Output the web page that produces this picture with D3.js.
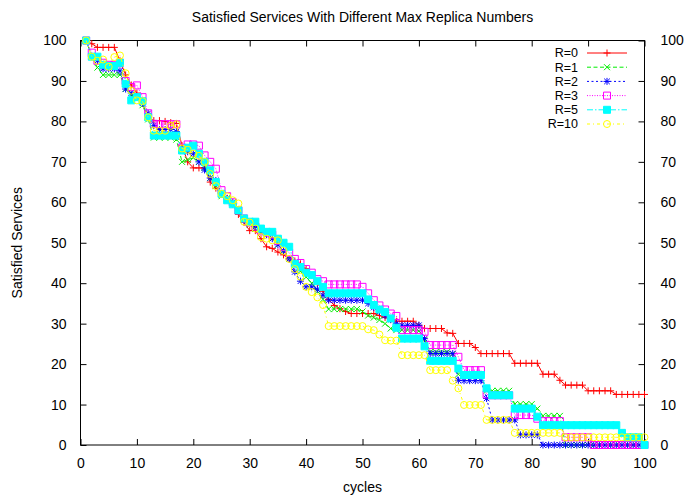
<!DOCTYPE html>
<html>
<head>
<meta charset="utf-8">
<script src="https://cdn.jsdelivr.net/npm/d3@7"></script>
<style>
  html, body { margin: 0; padding: 0; background: #fff; }
  svg { display: block; font-family: "Liberation Sans", Arial, Helvetica, sans-serif; }
</style>
</head>
<body>
<svg id="chart" width="685" height="498"></svg>
<script>
// cycles 1..100
const cycles = d3.range(1, 101);

const xTicks = [0, 10, 20, 30, 40, 50, 60, 70, 80, 90, 100];
const yTicks = [0, 10, 20, 30, 40, 50, 60, 70, 80, 90, 100];

const seriesNames = ["R=0", "R=1", "R=2", "R=3", "R=5", "R=10"];

const r0 = [100, 99.2, 98.3, 98.3, 98.3, 98.3, 95, 91.5, 89, 87,
  84.5, 81, 80.2, 80.2, 80, 79.7, 79.5, 74, 70, 68.5,
  68.5, 68.5, 65, 63.5, 62, 61, 59.5, 57, 55, 53,
  53, 51, 49, 48.6, 47.7, 47, 46, 45.5, 44.8, 43.6,
  42, 40, 38, 36, 34.5, 33.7, 33, 32.5, 32.5, 32.5,
  32.5, 32.5, 32, 31.5, 31, 30.6, 30.6, 30.6, 30.6, 29.6,
  28.8, 28.8, 28.8, 28.8, 27.7, 27.6, 25.1, 25.1, 25.1, 24.1,
  22.6, 22.6, 22.6, 22.6, 22.6, 22.6, 20.2, 20.2, 20.2, 20.2,
  20.2, 17.5, 17.5, 17.5, 16, 14.8, 14.8, 14.8, 14.8, 13.4,
  13.4, 13.4, 13.4, 13.4, 12.5, 12.5, 12.5, 12.5, 12.5, 12.5];

const r1 = [100, 96, 93.3, 91.5, 91.5, 91.5, 91.5, 88, 86.5, 86,
  84, 80.5, 76, 76, 76, 76, 75.5, 70, 70.5, 71,
  70, 68.5, 66, 64, 61.5, 61, 60, 58, 56, 54.5,
  53.5, 52.5, 52, 51, 49.5, 48, 46, 44.5, 43, 41.5,
  40, 38, 36, 33.6, 33.6, 33.6, 33.6, 33.6, 33.6, 33,
  32, 31.5, 30.9, 30, 28.8, 28.4, 28.4, 28.4, 28.4, 28.2,
  26, 23, 23, 23, 23, 22.5, 17.5, 17.5, 17.5, 17.5,
  17.3, 13.4, 13.4, 13.4, 13.4, 13.4, 10.1, 10.1, 10.1, 10.1,
  9, 7.2, 7.2, 7.2, 7.2, 0, 0, 0, 0, 0,
  0, 0, 0, 0, 0, 0, 0, 0, 0, 0];

const r2 = [100, 96, 95, 93, 93, 93, 92.5, 88, 87, 86,
  84.5, 82, 79, 78, 78, 78, 77.5, 73, 72.5, 72,
  70, 68, 66, 65.4, 62, 60.9, 60, 58, 55.6, 55,
  54, 53, 52, 51, 49.5, 48, 46, 42.8, 40.5, 39.1,
  39.1, 38.5, 37, 35.8, 35.8, 35.8, 35.8, 35.8, 35.8, 35.8,
  35, 34, 33, 32, 31, 30, 29.6, 29.6, 29.6, 29.6,
  26.3, 22.6, 22.6, 22.6, 22.6, 22.6, 16, 15.9, 15.9, 15.9,
  15.9, 11.5, 6.2, 6.2, 6.2, 6.2, 6.2, 2.5, 2.5, 2.5,
  2.5, 0, 0, 0, 0, 0, 0, 0, 0, 0,
  0, 0, 0, 0, 0, 0, 0, 0, 0, 0];

const r3 = [100, 97, 95, 94.5, 94, 94, 94.5, 90, 88.5, 88.9,
  86, 82, 79.4, 79.3, 79.3, 79.3, 79.3, 73.5, 74.3, 74.3,
  74, 71.6, 70, 68.3, 63, 61.5, 60, 58, 56, 55,
  54, 53, 52.5, 52, 50.5, 49, 47.5, 46, 45, 43.5,
  42.6, 41, 40.5, 39.7, 39.7, 39.7, 39.7, 39.7, 39.7, 39.1,
  37.5, 35.8, 34.5, 33.5, 32.5, 31.9, 28.4, 28.4, 28.4, 28.4,
  28, 24.7, 24.7, 24.7, 24.7, 24.7, 21.8, 18.5, 18.5, 18.5,
  18.5, 12.5, 12.3, 12.3, 12.3, 12.3, 7.4, 7.4, 7.4, 7.4,
  6.5, 5.9, 5.9, 5.9, 5.9, 1.9, 1.9, 1.9, 1.9, 1.9,
  0, 0, 0, 0, 0, 0, 0, 0, 0, 0];

const r5 = [100, 96, 96, 94, 93.7, 93.7, 94.5, 89.3, 85.2, 86,
  85, 81, 76.5, 76.5, 76.5, 76.5, 76.5, 72.8, 73.5, 74,
  72, 70, 67.9, 65, 62.1, 60.5, 59.5, 58, 56, 55.2,
  55.2, 53.5, 52.7, 52.7, 51, 50, 49, 44.8, 44, 42.6,
  42, 40.5, 39.1, 37.5, 37.5, 37.5, 37.5, 37.5, 37.5, 37.5,
  36, 34.6, 33.5, 32.9, 31.3, 29, 26.3, 26.3, 26.3, 26.3,
  24.4, 20.8, 20.8, 20.8, 20.8, 20.8, 18.9, 17.3, 17.3, 17.3,
  17.3, 14, 12.3, 12.3, 12.3, 12.3, 9, 9, 9, 9,
  7, 4.9, 4.9, 4.9, 4.9, 4.9, 4.9, 4.9, 4.9, 4.9,
  4.9, 4.9, 4.9, 4.9, 4.9, 3, 1.9, 1.9, 1.9, 0];

const r10 = [100, 96, 95, 95.3, 93.5, 95.9, 96.3, 91.9, 87.6, 85.2,
  85, 81, 77.7, 77.7, 77.7, 78.9, 79.3, 73.3, 73, 72,
  71.5, 70, 67, 64, 62.1, 61.5, 60.5, 59.7, 55.2, 55,
  53.5, 51.4, 51, 50.6, 50.6, 48, 46, 43.5, 41.6, 39.1,
  37.8, 36.5, 34.6, 29.4, 29.4, 29.4, 29.4, 29.4, 29.4, 29.4,
  28.6, 28.4, 27.3, 25.9, 25.8, 25.8, 22.2, 22.2, 22.2, 22.2,
  22.2, 18.5, 18.5, 18.5, 18.5, 15.9, 14, 9.9, 9.9, 9.9,
  9.9, 6.2, 6.2, 6.2, 6.2, 6.2, 3, 3, 3, 3,
  3, 3, 3, 3, 3, 1.9, 1.9, 1.9, 1.9, 1.9,
  1.9, 1.9, 1.9, 1.9, 1.9, 1.9, 1.9, 1.9, 1.9, 1.9];

const seriesValues = [r0, r1, r2, r3, r5, r10];
const seriesColors = ["#ff0000", "#00ee00", "#0000ff", "#ff00ff", "#00ffff", "#ffff00"];
const seriesDashes = [null, "4,2.5", "2,2.5", "1,1.5", "6,2,1.5,2", "3,3,1,3"];
const seriesMarkers = ["plus", "cross", "star", "box", "fbox", "circle"];

const W = 685, H = 498;
const margin = { left: 80.5, right: 40.5, top: 40.5, bottom: 53 };
const svg = d3.select("#chart");

const x = d3.scaleLinear().domain([0, 100]).range([margin.left, W - margin.right]);
const y = d3.scaleLinear().domain([0, 100]).range([H - margin.bottom, margin.top]);

const FS = 14;
const LEGEND_FS = 12.5;

// axes: ticks point inward on every side
const axisStyle = g => {
  g.select(".domain").remove();
  g.selectAll(".tick line").attr("stroke", "#000").attr("stroke-width", 1);
  g.selectAll(".tick text").attr("fill", "#000").style("font-size", FS + "px")
    .style("font-family", '"Liberation Sans", Arial, sans-serif');
};

svg.append("g").attr("transform", `translate(0,${y(0)})`)
  .call(d3.axisBottom(x).tickValues(xTicks).tickSizeInner(-6).tickSizeOuter(0).tickPadding(13).tickFormat(d3.format("d")))
  .call(axisStyle);
svg.append("g").attr("transform", `translate(0,${y(100)})`)
  .call(d3.axisTop(x).tickValues(xTicks).tickSizeInner(-6).tickSizeOuter(0).tickFormat(""))
  .call(axisStyle);
svg.append("g").attr("transform", `translate(${x(0)},0)`)
  .call(d3.axisLeft(y).tickValues(yTicks).tickSizeInner(-6).tickSizeOuter(0).tickPadding(14).tickFormat(d3.format("d")))
  .call(axisStyle);
svg.append("g").attr("transform", `translate(${x(100)},0)`)
  .call(d3.axisRight(y).tickValues(yTicks).tickSizeInner(-6).tickSizeOuter(0).tickPadding(16).tickFormat(d3.format("d")))
  .call(axisStyle);

// plot frame
svg.append("rect")
  .attr("x", x(0)).attr("y", y(100))
  .attr("width", x(100) - x(0)).attr("height", y(0) - y(100))
  .attr("fill", "none").attr("stroke", "#000").attr("stroke-width", 1);

// titles
svg.append("text").attr("x", (x(0) + x(100)) / 2).attr("y", 22)
  .attr("text-anchor", "middle").style("font-size", FS + "px")
  .text("Satisfied Services With Different Max Replica Numbers");
svg.append("text").attr("x", (x(0) + x(100)) / 2).attr("y", 492)
  .attr("text-anchor", "middle").style("font-size", FS + "px").text("cycles");
svg.append("text").attr("transform", `translate(22,${(y(0) + y(100)) / 2}) rotate(-90)`)
  .attr("text-anchor", "middle").style("font-size", FS + "px").text("Satisfied Services");

// marker shapes
const S = 3.5;
function markerPath(type, cx, cy) {
  switch (type) {
    case "plus": return `M${cx - S},${cy}H${cx + S}M${cx},${cy - S}V${cy + S}`;
    case "cross": { const s = 3; return `M${cx - s},${cy - s}L${cx + s},${cy + s}M${cx - s},${cy + s}L${cx + s},${cy - s}`; }
    case "star": { const s = 2.8; return `M${cx - S},${cy}H${cx + S}M${cx},${cy - S}V${cy + S}M${cx - s},${cy - s}L${cx + s},${cy + s}M${cx - s},${cy + s}L${cx + s},${cy - s}`; }
    case "box": case "fbox": return `M${cx - S},${cy - S}H${cx + S}V${cy + S}H${cx - S}Z`;
    case "circle": return `M${cx + S},${cy}A${S},${S} 0 1 1 ${cx - S},${cy}A${S},${S} 0 1 1 ${cx + S},${cy}Z`;
  }
}

const line = d3.line().x(d => x(d[0])).y(d => y(d[1]));
const plot = svg.append("g");

seriesValues.forEach((vals, i) => {
  const pts = cycles.map((c, k) => [c, vals[k]]);
  const g = plot.append("g");
  g.append("path").attr("d", line(pts)).attr("fill", "none")
    .attr("stroke", seriesColors[i]).attr("stroke-width", 1)
    .attr("stroke-dasharray", seriesDashes[i]);
  g.append("path")
    .attr("d", pts.map(p => markerPath(seriesMarkers[i], x(p[0]), y(p[1]))).join(""))
    .attr("fill", seriesMarkers[i] === "fbox" ? seriesColors[i] : "none")
    .attr("stroke", seriesColors[i]).attr("stroke-width", 1);
});

// legend
const legend = svg.append("g");
seriesNames.forEach((name, i) => {
  const ly = 53 + i * 14.2;
  legend.append("text").attr("x", 578).attr("y", ly).attr("dy", "0.35em")
    .attr("text-anchor", "end").style("font-size", LEGEND_FS + "px").text(name);
  legend.append("line").attr("x1", 587).attr("x2", 627).attr("y1", ly).attr("y2", ly)
    .attr("stroke", seriesColors[i]).attr("stroke-width", 1)
    .attr("stroke-dasharray", seriesDashes[i]);
  legend.append("path").attr("d", markerPath(seriesMarkers[i], 607, ly))
    .attr("fill", seriesMarkers[i] === "fbox" ? seriesColors[i] : "none")
    .attr("stroke", seriesColors[i]).attr("stroke-width", 1);
});
</script>
</body>
</html>
